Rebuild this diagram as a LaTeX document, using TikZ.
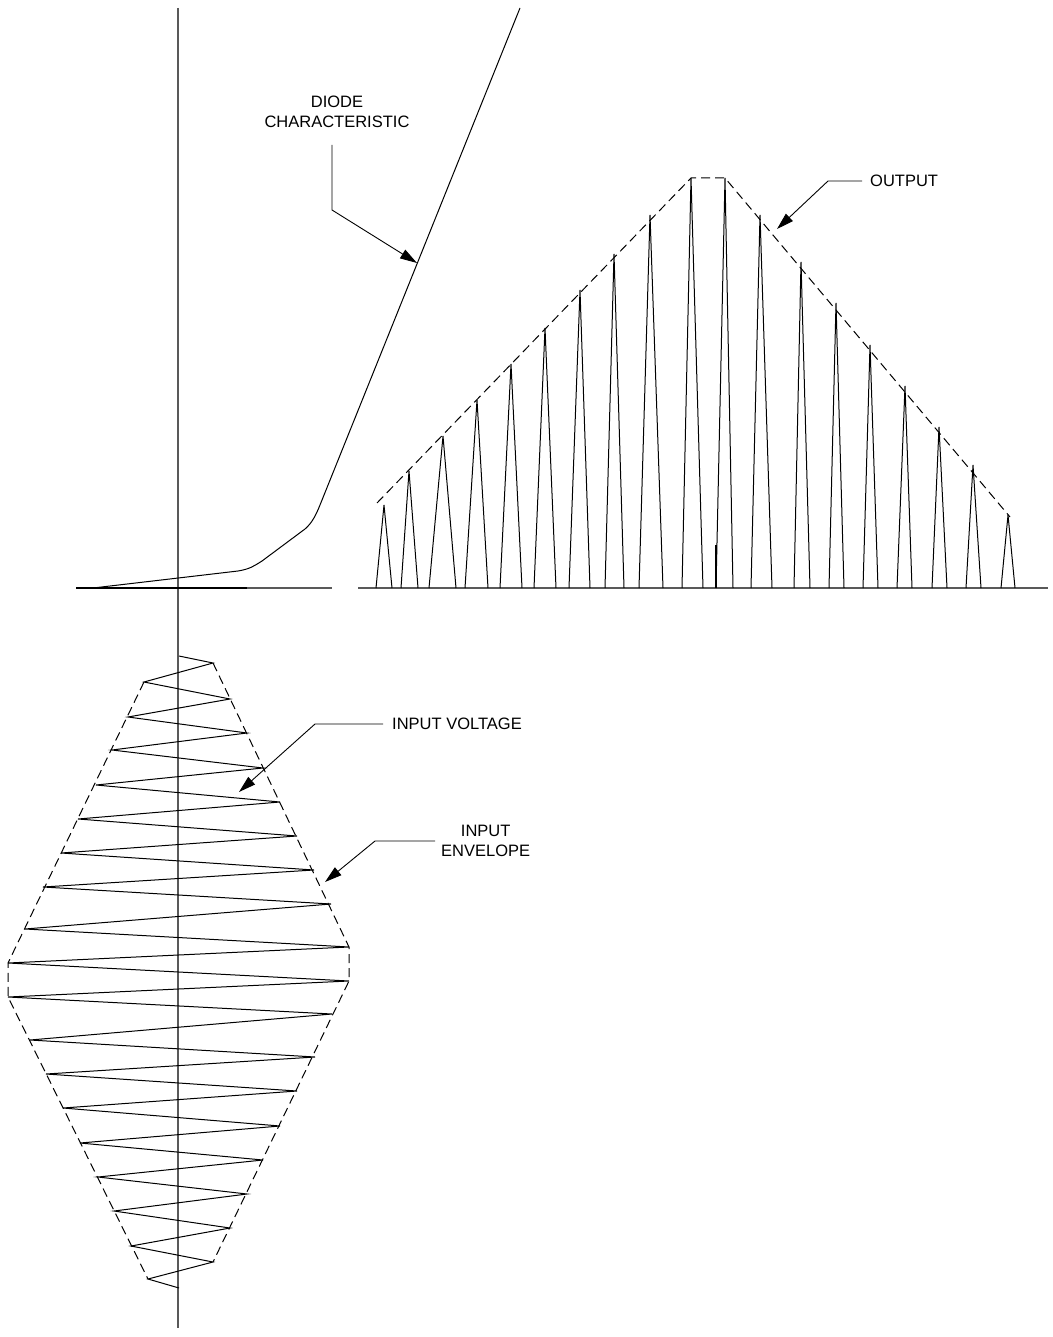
\documentclass[tikz,border=0pt]{standalone}
\usepackage{fontspec}
\setmainfont{Liberation Sans}
\usetikzlibrary{arrows.meta}
\begin{document}
\begin{tikzpicture}[x=1pt,y=-1pt,
  axisline/.style={draw=black!65, line width=1.1pt},
  curveline/.style={draw=black, line width=1pt, line join=miter},
  envline/.style={draw=black, line width=1pt, dash pattern=on 9pt off 5pt},
  leaderline/.style={draw=black, line width=0.9pt},
  pointer/.style={leaderline, -{Triangle[length=17pt,width=10pt]}},
  lbl/.style={font=\fontsize{16.5}{20}\selectfont, inner sep=0pt, align=center}]
\useasboundingbox (0,0) rectangle (1052,1337);

% axes
\draw[axisline] (178,8) -- (178,1328);
\draw[axisline] (76,588) -- (332,588);
\draw[draw=black, line width=1.1pt] (76,588) -- (247,588);
\draw[axisline] (358,588) -- (1048,588);

% diode characteristic
\draw[curveline] (93,588) -- (238,571) .. controls (250,569) and (254,566) .. (262,561)
  -- (305,529) .. controls (312,523) and (316,515) .. (320,505) -- (520,8);

% output spikes
\foreach \a/\px/\py/\b in {376/384/505/392, 401/409/471/418, 429/443/436/456,
  465/477/400/488, 500/511/364/522, 534/545/328/556, 569/580/290/590,
  605/614/254/624, 639/650/215/663, 682/691/178/703, 716/725/178/733,
  751/760/215/772, 794/801/262/810, 829/836/303/844, 863/870/345/878,
  897/905/386/912, 932/939/427/947, 966/973/465/981, 1001/1008/515/1015}
  \draw[curveline] (\a,588) -- (\px,\py) -- (\b,588);
\draw[draw=black, line width=1.6pt] (716,545) -- (716,588);

% output envelope
\draw[envline] (377,503) -- (691,178) -- (725,178) -- (1010,517);

% input voltage
\draw[curveline] (179,656) -- (213,663) -- (144,682) -- (230,699) -- (128,717)
  -- (247,733) -- (112,750) -- (263,768) -- (96,785) -- (280,802) -- (78,819)
  -- (297,836) -- (61,853) -- (314,870) -- (43,887) -- (331,904) -- (25,929)
  -- (349,947) -- (8,963) -- (349,981) -- (8,997) -- (332,1014) -- (30,1040)
  -- (315,1057) -- (46,1074) -- (297,1091) -- (63,1108) -- (280,1126)
  -- (80,1143) -- (263,1160) -- (98,1177) -- (247,1194) -- (114,1211)
  -- (230,1228) -- (131,1246) -- (213,1262) -- (148,1279) -- (179,1288);

% input envelope
\draw[envline] (213,663) -- (349,947) -- (349,981) -- (213,1262);
\draw[envline] (144,682) -- (8,963) -- (8,997) -- (148,1279);

% labels
\node[lbl, anchor=south] (diodelbl) at (337,128) {DIODE\\CHARACTERISTIC};
\coordinate (diodebend) at (332,210);
\coordinate (diodetip) at (417,263);
\draw[pointer] ([yshift=-17pt]diodelbl.south -| diodebend) -- (diodebend) -- (diodetip);

\node[lbl, anchor=west, inner xsep=8pt] (outlbl) at (862,181) {OUTPUT};
\coordinate (outbend) at (828,181);
\coordinate (outtip) at (777,229);
\draw[pointer] (outlbl.west) -- (outbend) -- (outtip);

\node[lbl, anchor=west, inner xsep=9pt] (vinlbl) at (383,724) {INPUT VOLTAGE};
\coordinate (vinbend) at (315,724);
\coordinate (vintip) at (239,792);
\draw[pointer] (vinlbl.west) -- (vinbend) -- (vintip);

\node[lbl, anchor=west, inner xsep=6pt] (envlbl) at (435,841) {INPUT\\ENVELOPE};
\coordinate (envbend) at (375,841);
\coordinate (envtip) at (325,882);
\draw[pointer] (envlbl.west) -- (envbend) -- (envtip);
\end{tikzpicture}
\end{document}
